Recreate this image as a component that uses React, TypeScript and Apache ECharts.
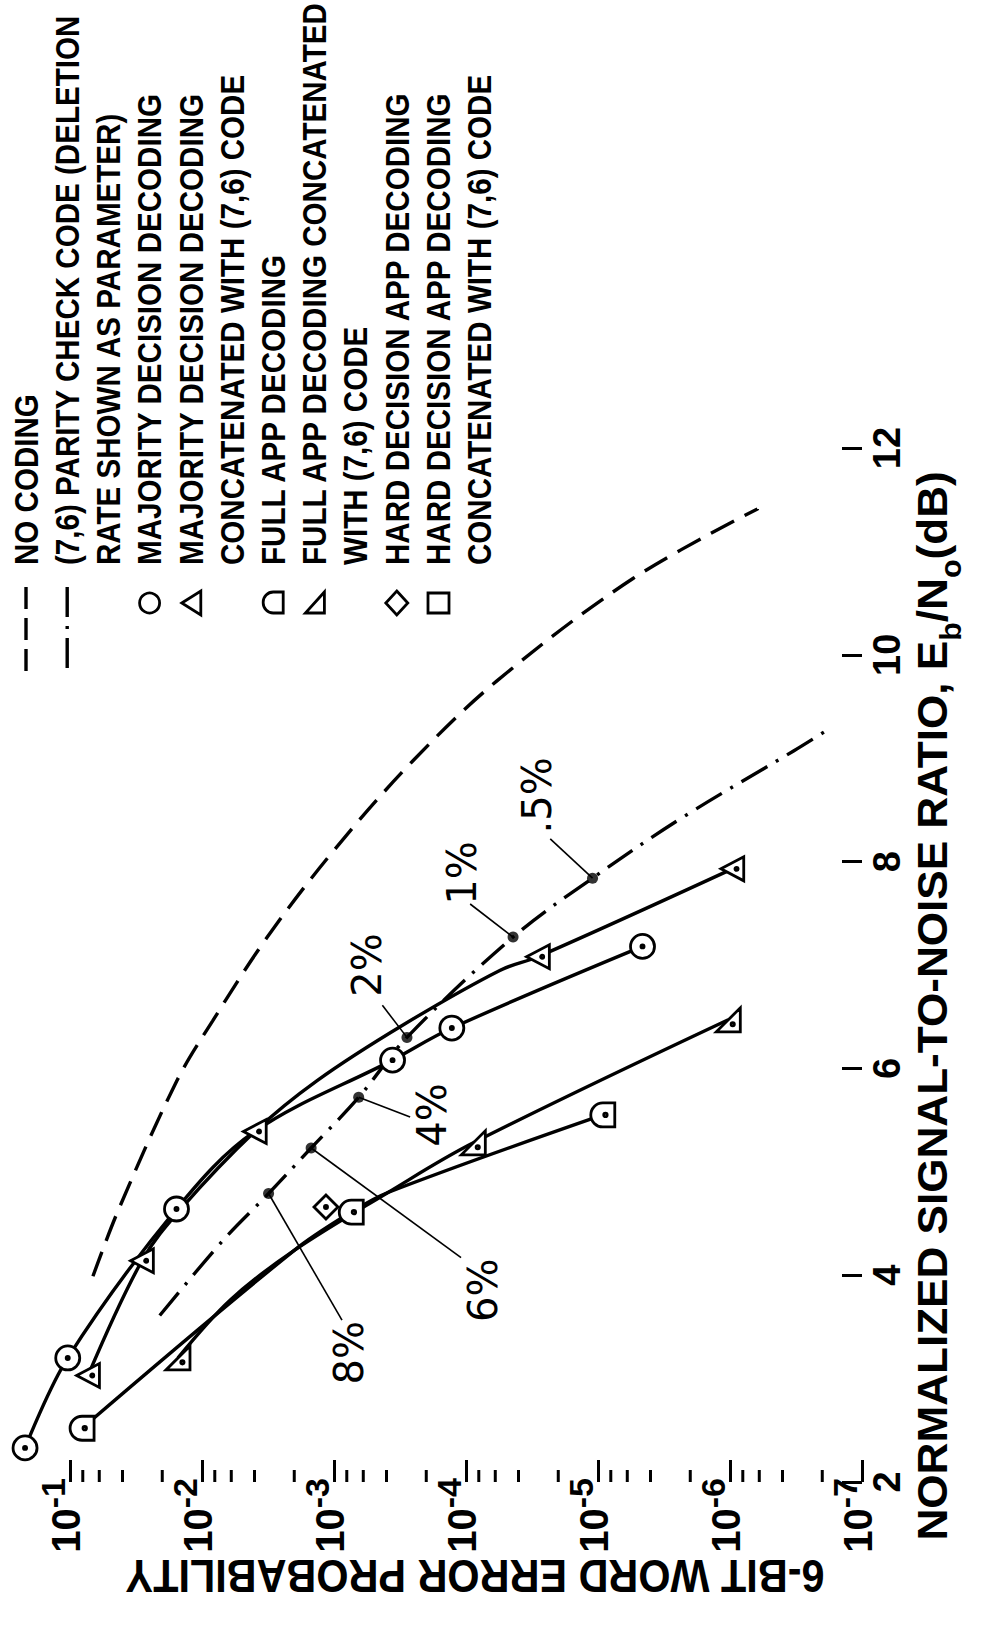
import React, { useEffect, useRef } from 'react';
import * as echarts from 'echarts';

// ---- Eb/No (dB) vs 6-bit word error probability, read per curve ----
// No coding (dashed)
const noCodingSnr = [3.99, 4.63, 5.88, 6.46, 7.27, 8.11, 8.98, 9.75, 10.74, 11.41];
const noCodingProb = [6.7e-2, 4.3e-2, 1.55e-2, 8.3e-3, 3.2e-3, 1.0e-3, 2.5e-4, 5.8e-5, 5.4e-6, 6.2e-7];

// (7,6) parity check code (dash-dot), deletion rate as parameter
const paritySnr = [3.61, 4.34, 4.79, 5.23, 5.72, 6.3, 7.27, 7.84, 8.43, 9.07, 9.26];
const parityProb = [2.09e-2, 6.9e-3, 3.13e-3, 1.49e-3, 6.5e-4, 2.8e-4, 4.4e-5, 1.1e-5, 2.27e-6, 3.3e-7, 1.9e-7];
const deletionRates = ['8%', '6%', '4%', '2%', '1%', '.5%'];
const deletionSnr = [4.79, 5.23, 5.72, 6.3, 7.27, 7.84];
const deletionProb = [3.13e-3, 1.49e-3, 6.5e-4, 2.8e-4, 4.4e-5, 1.1e-5];
const leaderSnr = [3.565, 4.17, 5.53, 6.61, 7.59, 8.22];
const leaderProb = [8.7e-4, 1.09e-4, 2.65e-4, 4.3e-4, 9.3e-5, 2.3e-5];
const rateLabelSnr = [3.25, 3.855, 5.55, 7.0, 7.89, 8.64];
const rateLabelProb = [7.7e-4, 7.4e-5, 1.81e-4, 5.6e-4, 1.07e-4, 2.9e-5];

// Majority decision decoding (circles)
const majSnr = [2.33, 3.2, 4.64, 6.08, 6.39, 7.18];
const majProb = [2.19e-1, 1.04e-1, 1.56e-2, 3.6e-4, 1.28e-4, 4.6e-6];
const majTraceSnr = [5.39];
const majTraceProb = [3.98e-3];

// Majority decision decoding concatenated with (7,6) code (triangles)
const majCatSnr = [3.03, 4.14, 5.39, 7.08, 7.93];
const majCatProb = [7.3e-2, 2.85e-2, 3.98e-3, 2.85e-5, 9.6e-7];
const majCatTraceSnr = [4.64, 5.88, 6.42, 6.95];
const majCatTraceProb = [1.45e-2, 1.35e-3, 3.0e-4, 5.5e-5];

// Full APP decoding
const appSnr = [2.52, 4.61, 5.55];
const appProb = [8.1e-2, 7.4e-4, 9.2e-6];
const appTraceSnr = [4.24, 4.8];
const appTraceProb = [2.0e-3, 3.9e-4];

// Full APP decoding concatenated with (7,6) code
const appCatSnr = [3.2, 5.28, 6.47];
const appCatProb = [1.52e-2, 8.8e-5, 1.03e-6];
const appCatTraceSnr = [3.76, 4.24, 4.8];
const appCatTraceProb = [6.1e-3, 2.0e-3, 3.9e-4];

// Hard decision APP decoding
const hardSnr = [4.66];
const hardProb = [1.15e-3];

// Axes
const snrTicks = [2, 4, 6, 8, 10, 12];
const probTicks = [1e-1, 1e-2, 1e-3, 1e-4, 1e-5, 1e-6, 1e-7];
const probAxisMax = 0.339;
const minorMantissas = [8, 6, 4, 2];
const minorDecades = [1e-2, 1e-3, 1e-4, 1e-5, 1e-6, 1e-7];

const legendLines = [
  'NO CODING',
  '(7,6) PARITY CHECK CODE (DELETION',
  'RATE SHOWN AS PARAMETER)',
  'MAJORITY DECISION DECODING',
  'MAJORITY DECISION DECODING',
  'CONCATENATED WITH (7,6) CODE',
  'FULL APP DECODING',
  'FULL APP DECODING CONCATENATED',
  'WITH (7,6) CODE',
  'HARD DECISION APP DECODING',
  'HARD DECISION APP DECODING',
  'CONCATENATED WITH (7,6) CODE',
];

const W = 981;
const H = 1638;
const SANS = "'Liberation Sans', Arial, sans-serif";

const pairs = (snr: number[], prob: number[]) => snr.map((s, i) => [prob[i], s]);
const curve = (s: number[], p: number[], ts: number[], tp: number[]) =>
  [...pairs(s, p), ...pairs(ts, tp)].sort((a, b) => a[1] - b[1]);

// marker outlines with a centre dot
const DOT = (cx: number, cy: number) =>
  `M${cx - 1.3},${cy}A1.3,1.3,0,0,1,${cx + 1.3},${cy}A1.3,1.3,0,0,1,${cx - 1.3},${cy}Z`;
const SYM_CIRCLE = 'path://M2,12A10,10,0,0,1,22,12A10,10,0,0,1,2,12Z' + DOT(12, 12);
const SYM_LEFT_TRI = 'path://M2,12L21,2L21,22Z' + DOT(15, 12);
const SYM_D = 'path://M12,3L21,3L21,21L12,21A9,9,0,0,1,12,3Z' + DOT(14, 12);
const SYM_RIGHT_TRI = 'path://M2,21L21,21L21,2Z' + DOT(15, 15);
const SYM_DIAMOND = 'path://M12,2L22,12L12,22L2,12Z' + DOT(12, 12);

const solid = { color: '#000', width: 3.4 };

function lineSeries(name: string, data: number[][], lineStyle: any) {
  return { name, type: 'line', data, smooth: 0.35, symbol: 'none', lineStyle, z: 2 };
}

function markerSeries(name: string, data: number[][], symbol: string) {
  return {
    name,
    type: 'scatter',
    data,
    symbol,
    symbolSize: 24,
    symbolKeepAspect: true,
    itemStyle: { color: '#fff', borderColor: '#000', borderWidth: 2.8, opacity: 1 },
    z: 4,
  };
}

function buildOption() {
  const legendX = legendLines.map((_, i) => 26 + i * 41.2);
  const legendTextY = 565;
  const keyY = 603;

  const graphics: any[] = legendLines.map((t, i) => ({
    type: 'text',
    x: legendX[i],
    y: legendTextY,
    rotation: Math.PI / 2,
    scaleX: 0.87,
    style: {
      text: t,
      fontFamily: SANS,
      fontWeight: 'bold',
      fontSize: 34,
      fill: '#000',
      align: 'left',
      verticalAlign: 'middle',
    },
  }));

  const keyStyle = { fill: '#fff', stroke: '#000', lineWidth: 2.8 };
  graphics.push(
    {
      type: 'line',
      shape: { x1: legendX[0], y1: 587, x2: legendX[0], y2: 672 },
      style: { stroke: '#000', lineWidth: 3.4, lineDash: [22, 9] },
    },
    {
      type: 'line',
      shape: { x1: legendX[1], y1: 587, x2: legendX[1], y2: 672 },
      style: { stroke: '#000', lineWidth: 3.4, lineDash: [30, 9, 3, 9] },
    },
    { type: 'circle', shape: { cx: legendX[3], cy: keyY, r: 10 }, style: keyStyle },
    {
      type: 'polygon',
      shape: { points: [[legendX[4] - 9, keyY], [legendX[4] + 10, keyY - 12], [legendX[4] + 10, keyY + 12]] },
      style: keyStyle,
    },
    {
      type: 'rect',
      shape: { x: legendX[6] - 10, y: keyY - 11, width: 20, height: 21, r: [10, 0, 0, 10] },
      style: keyStyle,
    },
    {
      type: 'polygon',
      shape: { points: [[legendX[7] - 9, keyY + 10], [legendX[7] + 10, keyY + 10], [legendX[7] + 10, keyY - 11]] },
      style: keyStyle,
    },
    {
      type: 'polygon',
      shape: { points: [[legendX[9], keyY - 12], [legendX[9] + 11, keyY], [legendX[9], keyY + 12], [legendX[9] - 11, keyY]] },
      style: keyStyle,
    },
    {
      type: 'rect',
      shape: { x: legendX[10] - 10, y: keyY - 10, width: 21, height: 20 },
      style: keyStyle,
    }
  );

  // axis titles
  graphics.push(
    {
      type: 'text',
      x: 475,
      y: 1576,
      rotation: Math.PI,
      scaleX: 0.9,
      style: {
        text: '6-BIT WORD ERROR PROBABILITY',
        fontFamily: SANS,
        fontWeight: 'bold',
        fontSize: 46,
        fill: '#000',
        align: 'center',
        verticalAlign: 'middle',
      },
    },
    {
      type: 'text',
      x: 938,
      y: 1006,
      rotation: Math.PI / 2,
      scaleX: 1.05,
      style: {
        text: '{t|NORMALIZED SIGNAL-TO-NOISE RATIO, E}{s|b}{t|/N}{s|o}{t|(dB)}',
        align: 'center',
        verticalAlign: 'middle',
        rich: {
          t: { fontFamily: SANS, fontWeight: 'bold', fontSize: 42, fill: '#000', lineHeight: 54, verticalAlign: 'top' },
          s: { fontFamily: SANS, fontWeight: 'bold', fontSize: 29, fill: '#000', lineHeight: 54, verticalAlign: 'bottom' },
        },
      },
    }
  );

  const minorTicks: number[][] = [];
  minorDecades.forEach((d) => minorMantissas.forEach((m) => minorTicks.push([m * d, snrTicks[0]])));

  const rateRows = deletionRates.map((_, i) => [
    deletionProb[i], deletionSnr[i], leaderProb[i], leaderSnr[i], rateLabelProb[i], rateLabelSnr[i],
  ]);

  return {
    animation: false,
    backgroundColor: '#fff',
    grid: { left: 0, right: W - 862, top: 448, bottom: H - 1482, containLabel: false },
    xAxis: {
      type: 'log',
      logBase: 10,
      min: probTicks[probTicks.length - 1],
      max: probAxisMax,
      inverse: true,
      axisLine: { show: false },
      splitLine: { show: false },
      axisTick: {
        show: true,
        inside: true,
        length: 22,
        customValues: probTicks,
        lineStyle: { color: '#000', width: 3 },
      },
      axisLabel: {
        rotate: 90,
        margin: -4,
        color: '#000',
        customValues: probTicks,
        padding: [0, 0, 18, 0],
        formatter: (v: number) => `{a|10}{b|${Math.round(Math.log10(v))}}`,
        rich: {
          a: { fontFamily: SANS, fontWeight: 'bold', fontSize: 40, lineHeight: 50, verticalAlign: 'bottom', color: '#000' },
          b: { fontFamily: SANS, fontWeight: 'bold', fontSize: 34, lineHeight: 50, verticalAlign: 'top', color: '#000' },
        },
      },
    },
    yAxis: {
      type: 'value',
      position: 'right',
      min: snrTicks[0],
      max: snrTicks[snrTicks.length - 1],
      interval: 2,
      axisLine: { show: false },
      splitLine: { show: false },
      axisTick: { show: true, inside: true, length: 20, lineStyle: { color: '#000', width: 3 } },
      axisLabel: {
        rotate: 90,
        margin: 6,
        color: '#000',
        fontFamily: SANS,
        fontWeight: 'bold',
        fontSize: 38,
      },
    },
    graphic: graphics,
    series: [
      lineSeries('NO CODING', pairs(noCodingSnr, noCodingProb), { color: '#000', width: 3.4, type: [26, 12] }),
      lineSeries('(7,6) PARITY CHECK CODE', pairs(paritySnr, parityProb), { color: '#000', width: 3.4, type: [30, 10, 3, 10] }),
      lineSeries('MAJORITY DECISION DECODING', curve(majSnr, majProb, majTraceSnr, majTraceProb), solid),
      lineSeries('MAJORITY DECISION DECODING CONCATENATED', curve(majCatSnr, majCatProb, majCatTraceSnr, majCatTraceProb), solid),
      lineSeries('FULL APP DECODING', curve(appSnr, appProb, appTraceSnr, appTraceProb), solid),
      lineSeries('FULL APP DECODING CONCATENATED', curve(appCatSnr, appCatProb, appCatTraceSnr, appCatTraceProb), solid),
      {
        name: 'deletion rate',
        type: 'custom',
        data: rateRows,
        encode: { x: [0, 2, 4], y: [1, 3, 5] },
        z: 3,
        renderItem: (params: any, api: any) => {
          const d = api.coord([api.value(0), api.value(1)]);
          const e = api.coord([api.value(2), api.value(3)]);
          const l = api.coord([api.value(4), api.value(5)]);
          return {
            type: 'group',
            children: [
              { type: 'line', shape: { x1: d[0], y1: d[1], x2: e[0], y2: e[1] }, style: { stroke: '#000', lineWidth: 1.6 } },
              {
                type: 'text',
                x: l[0],
                y: l[1],
                rotation: Math.PI / 2,
                style: {
                  text: deletionRates[params.dataIndex],
                  fontFamily: 'DejaVu Sans',
                  fontSize: 40,
                  fill: '#000',
                  align: 'center',
                  verticalAlign: 'middle',
                },
              },
            ],
          };
        },
      },
      {
        name: 'deletion points',
        type: 'scatter',
        data: pairs(deletionSnr, deletionProb),
        symbol: 'circle',
        symbolSize: 11,
        itemStyle: { color: '#000' },
        z: 4,
      },
      markerSeries('majority', pairs(majSnr, majProb), SYM_CIRCLE),
      markerSeries('majority concatenated', pairs(majCatSnr, majCatProb), SYM_LEFT_TRI),
      markerSeries('full app', pairs(appSnr, appProb), SYM_D),
      markerSeries('full app concatenated', pairs(appCatSnr, appCatProb), SYM_RIGHT_TRI),
      markerSeries('hard app', pairs(hardSnr, hardProb), SYM_DIAMOND),
      {
        name: 'minor ticks',
        type: 'custom',
        data: minorTicks,
        encode: { x: 0, y: 1 },
        renderItem: (_p: any, api: any) => {
          const pt = api.coord([api.value(0), api.value(1)]);
          return {
            type: 'line',
            shape: { x1: pt[0], y1: pt[1], x2: pt[0], y2: pt[1] - 12 },
            style: { stroke: '#000', lineWidth: 3 },
          };
        },
      },
    ],
  };
}

export default function App() {
  const ref = useRef<HTMLDivElement>(null);
  useEffect(() => {
    if (!ref.current) return;
    const chart = echarts.init(ref.current, null, { renderer: 'svg' });
    chart.setOption(buildOption() as any);
    return () => chart.dispose();
  }, []);
  return (
    <div
      ref={ref}
      style={{ position: 'absolute', left: 0, top: 0, width: W, height: H, background: '#fff' }}
    />
  );
}
